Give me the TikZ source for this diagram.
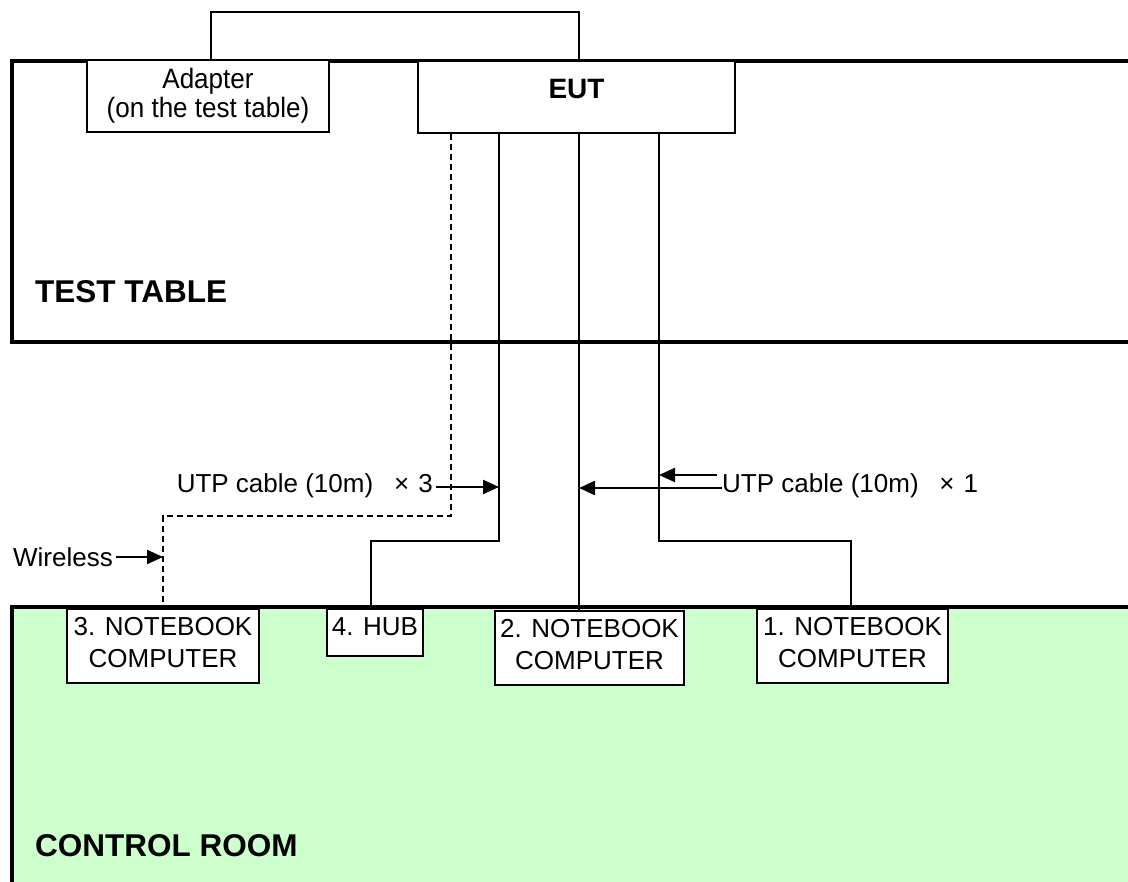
\documentclass[tikz,border=0pt]{standalone}
\usepackage{fontspec}
\setmainfont{Liberation Sans}
\newfontfamily\narrowfont{Liberation Sans}[FakeStretch=0.93]
\usetikzlibrary{arrows.meta}
\definecolor{ctrl}{HTML}{CCFFCC}
\tikzset{box/.style={draw,fill=white,line width=1.4pt,inner sep=0pt,align=center,
    font=\fontsize{26}{32}\selectfont},
  twoline/.style={text height=54pt,text depth=12pt,inner ysep=4pt},
  lbl/.style={inner sep=3pt,font=\fontsize{26}{31.5}\selectfont},
  tag/.style={anchor=base west,inner sep=0pt,font=\fontsize{31.5}{36}\selectfont\bfseries},
  wire/.style={line width=1.5pt},
  wl/.style={wire,dash pattern=on 6pt off 4pt},
  wall/.style={line width=4.5pt},
  arr/.style={line width=2.2pt,-{Triangle[length=16pt,width=14pt]}}}

\begin{document}
\begin{tikzpicture}[x=1pt,y=-1pt]
\useasboundingbox (0,0) rectangle (1128,882);
% rooms
\fill[ctrl] (12,607) rectangle (1140,890);
\draw[wall] (1140,61) -| (12,342) -- (1140,342);
\draw[wall] (1140,607) -| (12,890);
\node[tag] (tt) at (35,303) {TEST TABLE};
\node[tag] (cr) at (35,856) {CONTROL ROOM};
% equipment
\node[box,minimum width=242pt,minimum height=72pt,font=\narrowfont\fontsize{28}{29}\selectfont]
  (adapter) at (208,96) {Adapter\\(on the test table)};
\node[box,minimum width=317pt,text height=34pt,text depth=30pt,inner ysep=4pt,
  font=\fontsize{28}{33}\selectfont\bfseries] (eut) at (576.5,97) {EUT};
\node[box,twoline,minimum width=192pt] (nb3) at (163,646) {3. NOTEBOOK\\COMPUTER};
\node[box,minimum width=96pt,text height=22.5pt,text depth=16.5pt,inner ysep=4pt] (hub) at (375,632.5) {4. HUB};
\node[box,twoline,minimum width=189pt] (nb2) at (589.5,648) {2. NOTEBOOK\\COMPUTER};
\node[box,twoline,minimum width=191pt] (nb1) at (852.5,646) {1. NOTEBOOK\\COMPUTER};
% cables
\coordinate (xd) at (451,0);
\coordinate (x4) at (499,0);
\coordinate (x2) at (579,0);
\coordinate (x1) at (659,0);
\coordinate (bd) at (163,516);
\coordinate (bh) at (371,541);
\coordinate (b1) at (851,541);
\coordinate (top) at (211,12);
\draw[wire] (adapter.north -| top) -- (top) -| (eut.north -| x2);
\draw[wl] (eut.south -| xd) |- (bd) -- (nb3.north);
\draw[wire] (eut.south -| x4) |- (bh) -- (hub.north -| bh);
\draw[wire] (eut.south -| x2) -- (nb2.north -| x2);
\draw[wire] (eut.south -| x1) |- (b1) -- (nb1.north -| b1);
% labels
\node[lbl,anchor=east] (utp3) at (436,486) {UTP cable (10m)\hspace{.8em}×\hspace{.35em}3};
\draw[arr] (utp3.east |- 0,487) -- (x4 |- 0,487);
\node[lbl,anchor=west] (utp1) at (719,486) {UTP cable (10m)\hspace{.8em}×\hspace{.35em}1};
\coordinate (a2) at (722,488);
\draw[arr] (a2) -- (a2 -| x2);
\coordinate (a1) at (717,475);
\draw[arr] (a1) -- (a1 -| x1);
\node[lbl,anchor=east] (wless) at (116,557) {Wireless};
\draw[arr] (wless.east) -- (wless.east -| bd);
\end{tikzpicture}
\end{document}
